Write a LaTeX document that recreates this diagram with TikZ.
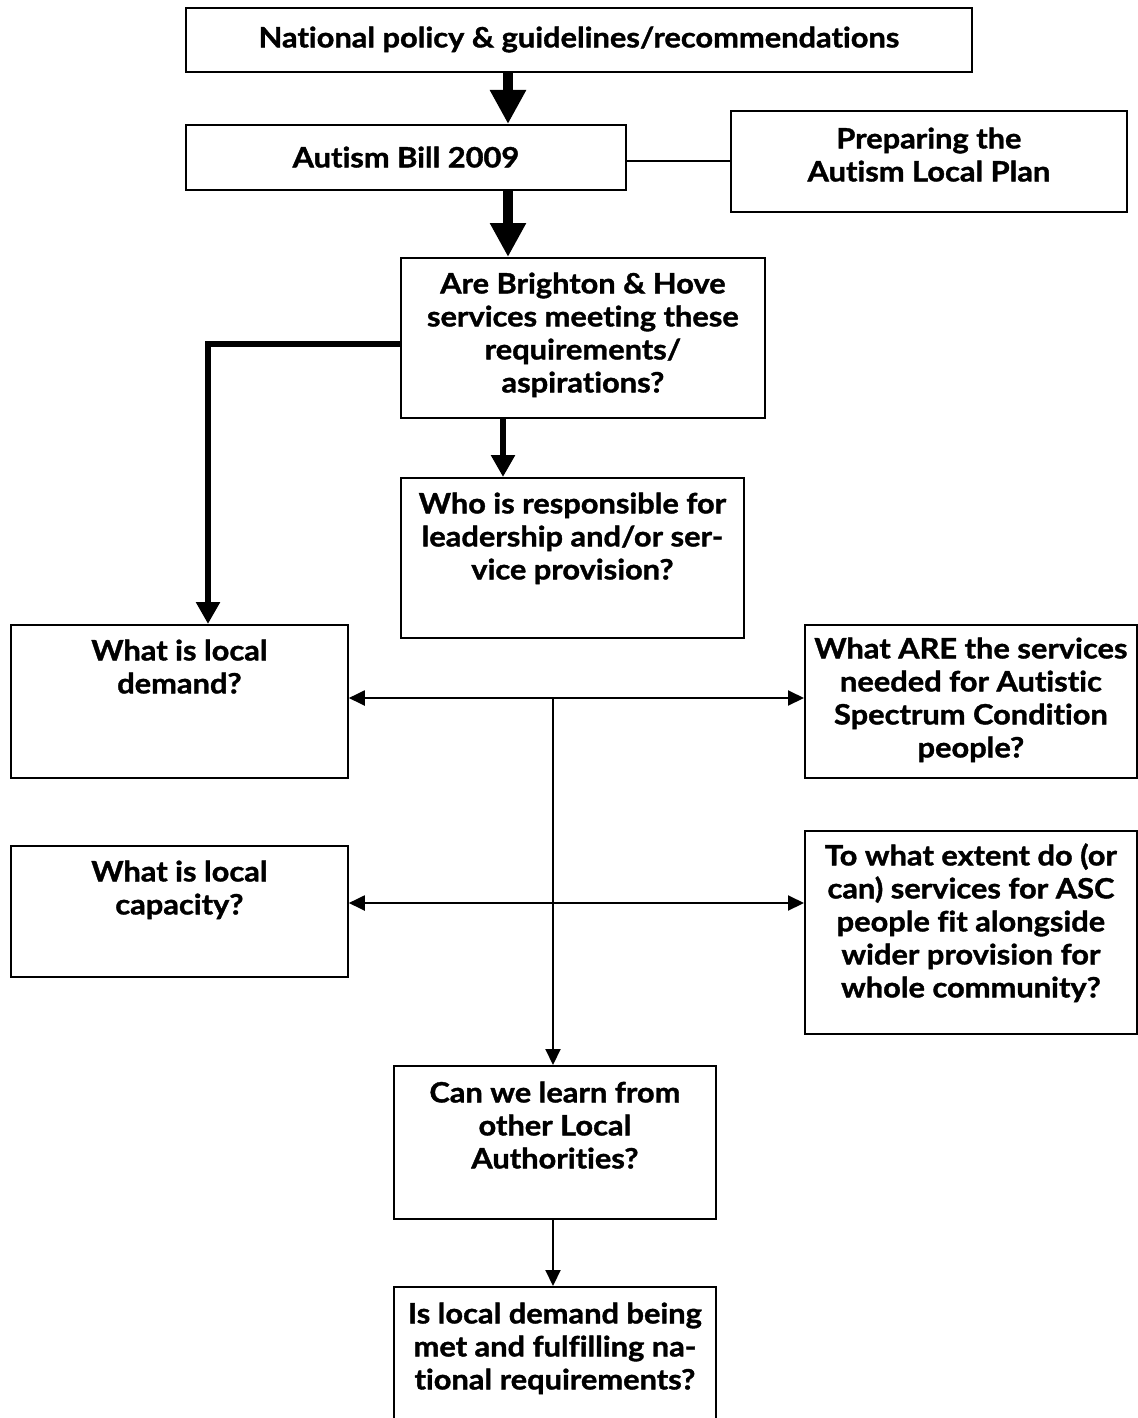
\documentclass[tikz,border=0pt]{standalone}
\usepackage{fontspec}
\setmainfont{Lato}[Ligatures=NoCommon, FakeStretch=1.1, BoldFeatures={FakeBold=1.3}]
\usetikzlibrary{arrows.meta}
\newcommand{\bxt}[4]{\begin{minipage}[c][#2][t]{#1}\centering\rule{0pt}{#3}#4\end{minipage}}
\begin{document}
\begin{tikzpicture}[x=0.5pt,y=-0.5pt,
  box/.style={draw, line width=0.9pt, inner sep=0pt, anchor=north west, font=\fontsize{14}{16.5}\selectfont\bfseries},
  bigarr/.style={line width=5pt, -{Triangle[length=17pt,width=17pt]}},
  midarr/.style={line width=3.2pt, line join=miter, -{Triangle[length=11pt,width=11.5pt]}},
  thinarr/.style={line width=1pt, -{Triangle[length=8pt,width=7.5pt]}},
  dblarr/.style={line width=1pt, {Triangle[length=8pt,width=7.5pt]}-{Triangle[length=8pt,width=7.5pt]}}]
\useasboundingbox (0,0) rectangle (1138,1418);
\clip (0,0) rectangle (1138,1418);
\fill[white] (0,0) rectangle (1138,1418);
\node[box] (b1) at (185,7) {\bxt{393pt}{32pt}{19.75pt}{National policy \& guidelines/recommendations}};
\node[box] (b2) at (185,124) {\bxt{220pt}{32.5pt}{21.25pt}{Autism Bill 2009}};
\node[box] (b3) at (730,110) {\bxt{198pt}{50.5pt}{18.75pt}{Preparing the\\Autism Local Plan}};
\node[box] (b4) at (400,257) {\bxt{182pt}{80pt}{17.75pt}{Are Brighton \& Hove\\services meeting these\\requirements/\\aspirations?}};
\node[box] (b5) at (400,477) {\bxt{171.5pt}{80pt}{17.75pt}{Who is responsible for\\leadership and/or ser-\\vice provision?}};
\node[box] (b6) at (10,624) {\bxt{168.5pt}{76.5pt}{17.75pt}{What is local\\demand?}};
\node[box] (b7) at (804,624) {\bxt{166pt}{76.5pt}{16.75pt}{What ARE the services\\needed for Autistic\\Spectrum Condition\\people?}};
\node[box] (b8) at (10,845) {\bxt{168.5pt}{65.5pt}{17.75pt}{What is local\\capacity?}};
\node[box] (b9) at (804,830) {\bxt{166pt}{101.5pt}{17.25pt}{To what extent do (or\\can) services for ASC\\people fit alongside\\wider provision for\\whole community?}};
\node[box] (b10) at (393,1065) {\bxt{161pt}{76.5pt}{18.25pt}{Can we learn from\\other Local\\Authorities?}};
\node[box] (b11) at (393,1286) {\bxt{161pt}{82pt}{18.25pt}{Is local demand being\\met and fulfilling na-\\tional requirements?}};
\coordinate (xa) at (508,0);
\coordinate (xb) at (503,0);
\coordinate (ln) at (0,161);
\coordinate (el) at (208,344);
\coordinate (h1) at (553,698);
\coordinate (h2) at (553,903);
\draw[bigarr] (b1.south -| xa) -- (b2.north -| xa);
\draw[bigarr] (b2.south -| xa) -- (b4.north -| xa);
\draw[line width=0.75pt] (b2.east |- ln) -- (b3.west |- ln);
\draw[midarr] (b4.south -| xb) -- (b5.north -| xb);
\draw[midarr] (b4.west |- el) -- (el) -- (b6.north -| el);
\draw[dblarr] (b6.east |- h1) -- (b7.west |- h1);
\draw[dblarr] (b8.east |- h2) -- (b9.west |- h2);
\draw[line width=1pt] (h1) -- (h1 |- h2);
\draw[thinarr] (h2) -- (b10.north -| h2);
\draw[thinarr] (b10.south -| h1) -- (b11.north -| h1);
\end{tikzpicture}
\end{document}
